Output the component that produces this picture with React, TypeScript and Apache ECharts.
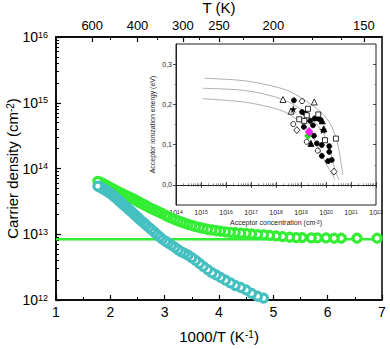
import React, { useEffect, useRef } from 'react';
import * as echarts from 'echarts';

const FONT = 'Liberation Sans';

// main plot: x = 1000/T (K^-1), listed from low T to high T
const invT = [6.91, 6.54, 6.25, 6.12, 5.97, 5.81, 5.70, 5.53, 5.42, 5.30, 5.17, 5.05, 4.93, 4.82, 4.71, 4.60, 4.50, 4.40, 4.30, 4.21, 4.12, 4.03, 3.95, 3.87, 3.79, 3.71, 3.64, 3.57, 3.50, 3.43, 3.37, 3.31, 3.25, 3.19, 3.13, 3.07, 3.02, 2.96, 2.91, 2.86, 2.81, 2.76, 2.71, 2.66, 2.62, 2.57, 2.53, 2.49, 2.45, 2.41, 2.37, 2.33, 2.29, 2.25, 2.22, 2.18, 2.15, 2.11, 2.08, 2.05, 2.02, 1.99, 1.96, 1.93, 1.90, 1.87, 1.85, 1.82, 1.80, 1.77];
// carrier density, units of 1e12 cm^-2
const greenDensity = [8.7, 8.7, 8.7, 8.7, 8.8, 8.8, 8.8, 8.9, 8.9, 9.0, 9.2, 9.4, 9.6, 9.8, 9.9, 10.1, 10.3, 10.4, 10.6, 10.7, 10.9, 11.1, 11.3, 11.6, 11.9, 12.3, 12.7, 13.1, 13.6, 14.1, 14.7, 15.3, 16.0, 16.7, 17.5, 18.4, 19.3, 20.5, 21.4, 22.4, 23.4, 24.5, 25.7, 27.0, 28.2, 29.5, 30.8, 32.1, 33.5, 34.8, 36.0, 37.3, 38.7, 40.1, 41.3, 42.8, 44.0, 45.6, 47.0, 48.5, 50.0, 51.6, 53.2, 54.8, 56.5, 58.2, 59.4, 61.0, 62.0, 63.5];
const cyanInvT = invT.slice(13);
const cyanDensity = [1.07, 1.14, 1.26, 1.42, 1.55, 1.66, 1.82, 2.0, 2.2, 2.4, 2.6, 2.9, 3.25, 3.6, 4.0, 4.4, 4.8, 5.1, 5.4, 5.8, 6.3, 6.8, 7.3, 7.8, 8.4, 9.1, 9.9, 10.8, 11.7, 12.7, 13.8, 14.9, 16.0, 17.2, 18.5, 19.8, 21.3, 22.8, 24.4, 26.0, 27.7, 29.2, 31.2, 33.0, 35.2, 37.0, 38.8, 40.6, 42.3, 44.0, 45.7, 47.3, 49.0, 50.0, 51.6, 52.7, 54.0];
const UNIT = 1e12;
const greenLineLevel = 8.4e12;
const xRange = [1, 7];

// axis ticks
const bottomTicks = [1, 2, 3, 4, 5, 6, 7];
const topMajorT = [600, 400, 300, 250, 200, 150];
const topMinorT = [500, 350, 275, 225, 175, 160];
const mainYDecades = [1e12, 1e13, 1e14, 1e15, 1e16];
const insetXDecades = [1e14, 1e15, 1e16, 1e17, 1e18, 1e19, 1e20, 1e21, 1e22];
const insetYTicks = [0, 0.1, 0.2, 0.3];
const insetYMinor = [0.05, 0.15, 0.25];

// inset: acceptor concentration (cm^-3) vs ionization energy (eV)
const curveTop = [[1.4e15, 0.265], [4.9e16, 0.259], [5.8e17, 0.247], [2.7e18, 0.235], [1.2e19, 0.214], [4.3e19, 0.189], [1.07e20, 0.165], [1.95e20, 0.136], [3.1e20, 0.095], [4.7e20, 0.025]];
const curveMid = [[1.2e15, 0.24], [4.9e16, 0.235], [5.8e17, 0.222], [2.7e18, 0.208], [9.1e18, 0.189], [3.1e19, 0.16], [7.8e19, 0.128], [1.45e20, 0.086], [2.3e20, 0.037], [3.3e20, 0.012]];
const curveBot = [[1.2e15, 0.214], [4.9e16, 0.206], [5.8e17, 0.193], [2.7e18, 0.179], [9.1e18, 0.156], [2.3e19, 0.128], [4.9e19, 0.095], [9.1e19, 0.058], [2.3e20, 0.014]];

const filledCircles = [[5.2e18, 0.21], [1.1e19, 0.181], [1.5e19, 0.177], [2.3e19, 0.159], [3.5e19, 0.165], [4.6e19, 0.165], [5.8e19, 0.162], [3.0e19, 0.148], [1.3e19, 0.144], [3.3e19, 0.122], [4.3e19, 0.103], [6.8e19, 0.099], [1.35e20, 0.096], [6.8e19, 0.072], [1.2e20, 0.059], [1.7e20, 0.062], [1.35e20, 0.082]];
const openCircles = [[1.1e19, 0.208], [4.9e18, 0.151], [1.7e19, 0.107], [4.7e19, 0.085]];
const openTriangles = [[1.9e18, 0.212], [3.4e19, 0.206], [4.0e18, 0.183]];
const filledTriangles = [[7.1e19, 0.159], [2.5e19, 0.103], [8.2e19, 0.139]];
const openSquares = [[1.9e19, 0.189], [1.7e19, 0.173], [4.9e19, 0.175], [8.5e18, 0.163], [1.35e19, 0.159], [9.1e19, 0.111], [2.5e20, 0.115]];
const openDiamonds = [[6.8e18, 0.136], [2.1e20, 0.033]];
const stars = [[4.9e18, 0.188], [7.6e19, 0.136]];
const thisWorkGreen = [[1.9e19, 0.122]];
const thisWorkMagenta = [[2.1e19, 0.132]];

const STAR = 'path://M50,0 L61,35 L98,35 L68,57 L79,91 L50,70 L21,91 L32,57 L2,35 L39,35 Z';
const decadeMinors = (decs: number[]) =>
  decs.slice(0, -1).flatMap((d) => [2, 3, 4, 5, 6, 7, 8, 9].map((k) => k * d));

const pow10Label = (v: number) => `{b|10}{s|${Math.round(Math.log10(v))}}`;

function buildOption() {
  const black = '#000';
  const mainLine = { show: true, lineStyle: { color: black, width: 1.5 } };
  const noLine = { show: false };
  const noSplit = { show: false };
  const insetLine = { show: true, lineStyle: { color: '#222', width: 1 } };

  const xAxis: any[] = [
    {
      gridIndex: 0, type: 'value', min: xRange[0], max: xRange[1], interval: 1, position: 'bottom',
      axisLine: mainLine, splitLine: noSplit,
      axisTick: { show: true, inside: true, length: 5, lineStyle: { color: black, width: 1.2 } },
      minorTick: { show: true, splitNumber: 2, length: 3, lineStyle: { color: black, width: 1 } },
      axisLabel: { fontSize: 14, color: black, margin: 5, fontFamily: FONT, customValues: bottomTicks },
      name: '1000/T (K{s|-1})', nameLocation: 'middle', nameGap: 29, nameMoveOverlap: false,
      nameTextStyle: { fontSize: 15, color: black, fontFamily: FONT, rich: { s: { fontSize: 10, verticalAlign: 'top', fontFamily: FONT, color: black } } },
    },
    {
      gridIndex: 0, type: 'value', min: xRange[0], max: xRange[1], position: 'top',
      axisLine: mainLine, splitLine: noSplit,
      axisTick: { show: true, inside: true, length: 5, customValues: topMajorT.map((t) => 1000 / t), lineStyle: { color: black, width: 1.2 } },
      axisLabel: { show: true, customValues: topMajorT.map((t) => 1000 / t), formatter: (v: number) => String(Math.round(1000 / v)), fontSize: 13, color: black, margin: 5, fontFamily: FONT },
      name: 'T (K)', nameLocation: 'middle', nameGap: 22, nameMoveOverlap: false,
      nameTextStyle: { fontSize: 15, color: black, fontFamily: FONT },
    },
    {
      gridIndex: 0, type: 'value', min: xRange[0], max: xRange[1], position: 'top',
      axisLine: noLine, splitLine: noSplit,
      axisTick: { show: true, inside: true, length: 3, customValues: topMinorT.map((t) => 1000 / t), lineStyle: { color: black, width: 1 } },
      axisLabel: { show: false },
    },
    {
      gridIndex: 1, type: 'log', logBase: 10, min: 1e14, max: 1e22, position: 'bottom',
      axisLine: insetLine, splitLine: noSplit,
      axisTick: { show: true, inside: true, length: 3, customValues: insetXDecades, lineStyle: { color: '#222', width: 0.8 } },
      axisLabel: {
        show: true, customValues: insetXDecades, formatter: pow10Label, margin: 4, color: '#222',
        rich: { b: { fontSize: 7, fontFamily: FONT, color: '#222' }, s: { fontSize: 5, verticalAlign: 'top', fontFamily: FONT, color: '#222' } },
      },
      name: 'Acceptor concentration (cm{s|-3})', nameLocation: 'middle', nameGap: 14, nameMoveOverlap: false,
      nameTextStyle: { fontSize: 7, color: '#222', fontFamily: FONT, rich: { s: { fontSize: 5, verticalAlign: 'top', fontFamily: FONT, color: '#222' } } },
    },
    {
      gridIndex: 1, type: 'log', logBase: 10, min: 1e14, max: 1e22, position: 'top',
      axisLine: noLine, splitLine: noSplit,
      axisTick: { show: true, inside: true, length: 3, customValues: insetXDecades, lineStyle: { color: '#222', width: 0.8 } },
      axisLabel: { show: false },
    },
    {
      gridIndex: 1, type: 'log', logBase: 10, min: 1e14, max: 1e22, position: 'bottom',
      axisLine: noLine, splitLine: noSplit,
      axisTick: { show: true, inside: true, length: 1.5, customValues: decadeMinors(insetXDecades), lineStyle: { color: '#444', width: 0.6 } },
      axisLabel: { show: false },
    },
    {
      gridIndex: 1, type: 'log', logBase: 10, min: 1e14, max: 1e22, position: 'top',
      axisLine: noLine, splitLine: noSplit,
      axisTick: { show: true, inside: true, length: 1.5, customValues: decadeMinors(insetXDecades), lineStyle: { color: '#444', width: 0.6 } },
      axisLabel: { show: false },
    },
  ];

  const yAxis: any[] = [
    {
      gridIndex: 0, type: 'log', logBase: 10, min: 1e12, max: 1e16, position: 'left',
      axisLine: mainLine, splitLine: noSplit,
      axisTick: { show: true, inside: true, length: 5, customValues: mainYDecades, lineStyle: { color: black, width: 1.2 } },
      axisLabel: {
        show: true, customValues: mainYDecades, formatter: pow10Label, margin: 8,
        rich: { b: { fontSize: 14, fontFamily: FONT, color: black }, s: { fontSize: 9, verticalAlign: 'top', fontFamily: FONT, color: black } },
      },
      name: 'Carrier density (cm{s|-2})', nameLocation: 'middle', nameGap: 36, nameRotate: 90, nameMoveOverlap: false,
      nameTextStyle: { fontSize: 15, color: black, fontFamily: FONT, rich: { s: { fontSize: 10, verticalAlign: 'top', fontFamily: FONT, color: black } } },
    },
    {
      gridIndex: 0, type: 'log', logBase: 10, min: 1e12, max: 1e16, position: 'left',
      axisLine: noLine, splitLine: noSplit,
      axisTick: { show: true, inside: true, length: 3, customValues: decadeMinors(mainYDecades), lineStyle: { color: black, width: 1 } },
      axisLabel: { show: false },
    },
    {
      gridIndex: 1, type: 'value', min: -0.05, max: 0.35, position: 'left',
      axisLine: insetLine, splitLine: noSplit,
      axisTick: { show: true, inside: false, length: 3, customValues: insetYTicks, lineStyle: { color: '#222', width: 0.8 } },
      axisLabel: { show: true, customValues: insetYTicks, formatter: (v: number) => v.toFixed(1).replace('.', ','), fontSize: 7, color: '#222', margin: 4, fontFamily: FONT },
      name: 'Acceptor ionization energy (eV)', nameLocation: 'middle', nameGap: 20, nameRotate: 90, nameMoveOverlap: false,
      nameTextStyle: { fontSize: 7, color: '#222', fontFamily: FONT },
    },
    {
      gridIndex: 1, type: 'value', min: -0.05, max: 0.35, position: 'left',
      axisLine: noLine, splitLine: noSplit,
      axisTick: { show: true, inside: false, length: 1.5, customValues: insetYMinor, lineStyle: { color: '#444', width: 0.6 } },
      axisLabel: { show: false },
    },
    {
      gridIndex: 1, type: 'value', min: -0.05, max: 0.35, position: 'right',
      axisLine: noLine, splitLine: noSplit,
      axisTick: { show: true, inside: true, length: 3, customValues: insetYTicks, lineStyle: { color: '#222', width: 0.8 } },
      axisLabel: { show: false },
    },
    {
      gridIndex: 1, type: 'value', min: -0.05, max: 0.35, position: 'right',
      axisLine: noLine, splitLine: noSplit,
      axisTick: { show: true, inside: true, length: 1.5, customValues: insetYMinor, lineStyle: { color: '#444', width: 0.6 } },
      axisLabel: { show: false },
    },
  ];

  const GREEN = '#33ee33';
  const CYAN = '#45c0c0';
  const insetScatter = (data: number[][], symbol: string, size: number | number[], fill: string, stroke: string, bw = 0.8) => ({
    type: 'scatter', xAxisIndex: 3, yAxisIndex: 2, data, symbol, symbolSize: size,
    itemStyle: { color: fill, borderColor: stroke, borderWidth: bw, opacity: 1 }, z: 5,
  });
  const curve = (data: number[][]) => ({
    type: 'line', xAxisIndex: 3, yAxisIndex: 2, data, smooth: 0.3, showSymbol: false, symbol: 'none',
    lineStyle: { color: '#9a9a9a', width: 0.8 }, z: 4,
  });

  const series: any[] = [
    {
      type: 'line', xAxisIndex: 0, yAxisIndex: 0, data: xRange.map((x) => [x, greenLineLevel]),
      showSymbol: false, symbol: 'none', lineStyle: { color: GREEN, width: 2.5 }, z: 2,
    },
    {
      type: 'scatter', xAxisIndex: 0, yAxisIndex: 0, data: invT.map((x, i) => [x, greenDensity[i] * UNIT]),
      symbol: 'circle', symbolSize: 8, itemStyle: { color: '#fff', borderColor: GREEN, borderWidth: 3.2, opacity: 1 }, z: 3,
    },
    {
      type: 'scatter', xAxisIndex: 0, yAxisIndex: 0, data: cyanInvT.map((x, i) => [x, cyanDensity[i] * UNIT]),
      symbol: 'circle', symbolSize: 8, itemStyle: { color: '#fff', borderColor: CYAN, borderWidth: 3.2, opacity: 1 }, z: 3,
    },
    curve(curveTop),
    curve(curveMid),
    curve(curveBot),
    insetScatter(filledCircles, 'circle', 5, '#000', '#000'),
    insetScatter(openCircles, 'circle', 5, '#fff', '#000'),
    insetScatter(openTriangles, 'triangle', 6, '#fff', '#000'),
    insetScatter(filledTriangles, 'triangle', 6, '#000', '#000'),
    insetScatter(openSquares, 'rect', 5, '#fff', '#000'),
    insetScatter(openDiamonds, 'diamond', [6, 7], '#fff', '#000'),
    insetScatter(stars, STAR, 7, '#000', '#000', 0.3),
    insetScatter(thisWorkGreen, 'diamond', [7, 8], '#22dd22', '#22dd22', 0.5),
    insetScatter(thisWorkMagenta, 'diamond', [8, 9], '#ff22ff', '#ee00ee', 0.5),
  ];

  return {
    animation: false,
    backgroundColor: '#fff',
    textStyle: { fontFamily: FONT },
    grid: [
      { left: 56, top: 37, width: 326, height: 263, show: true, borderColor: '#000', borderWidth: 1.5, backgroundColor: 'transparent', containLabel: false, outerBoundsMode: 'none' },
      { left: 176, top: 44, width: 200, height: 161, show: true, borderColor: '#222', borderWidth: 1, backgroundColor: '#fff', containLabel: false, outerBoundsMode: 'none' },
    ],
    xAxis,
    yAxis,
    series,
  };
}

export default function App() {
  const ref = useRef<HTMLDivElement>(null);
  useEffect(() => {
    const chart = echarts.init(ref.current!, null, { renderer: 'svg' });
    chart.setOption(buildOption() as any);
    return () => chart.dispose();
  }, []);
  return <div ref={ref} style={{ position: 'fixed', left: 0, top: 0, width: 390, height: 349 }} />;
}
